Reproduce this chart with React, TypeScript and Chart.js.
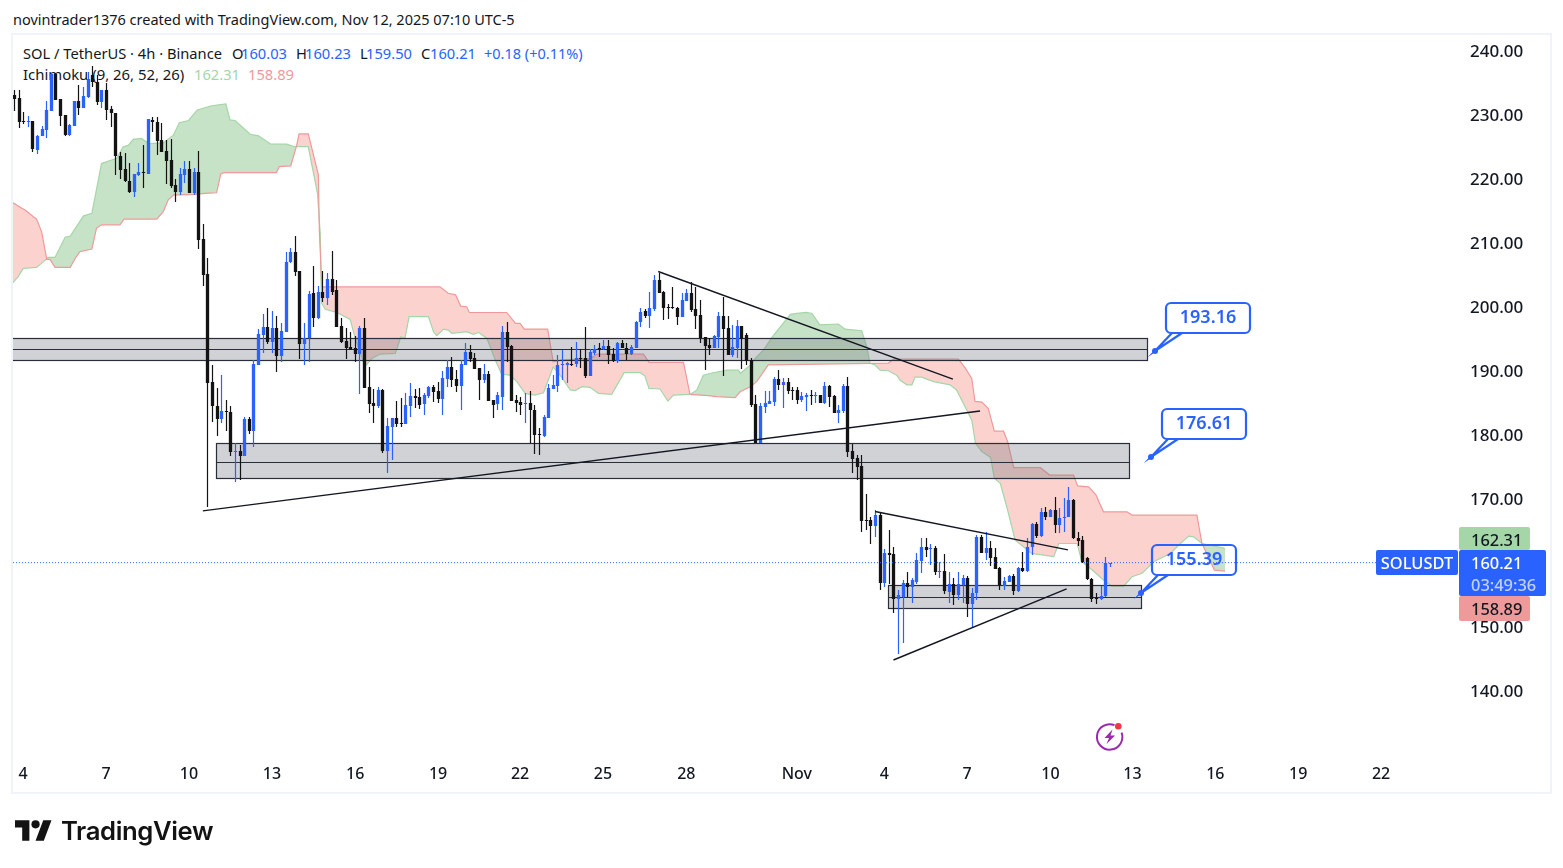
import { useEffect, useRef } from 'react';
import Chart from 'chart.js/auto';

const BLUE = '#2962ff';
const CANDLE_BLACK = '#131313';
const FONT = '"Noto Sans", sans-serif';

// candles, 4h bars
const opens = [
  233.3,232.8,229.2,229.0,229.2,224.7,226.8,227.8,230.8,236.6,
  232.7,230.1,227.0,228.5,232.3,231.3,233.0,236.4,235.3,232.2,
  234.1,231.1,230.4,223.8,221.7,219.9,218.2,220.8,221.2,221.0,
  229.4,229.0,226.2,224.6,223.1,219.2,218.2,220.8,221.7,218.0,
  221.2,210.8,205.3,188.4,184.75,182.7,183.9,183.8,177.55,177.65,
  176.9,182.65,180.8,191.15,195.8,197.0,194.7,196.9,192.5,196.3,
  207.15,208.7,205.8,194.4,195.3,202.3,198.5,202.5,201.6,204.6,
  202.8,197.2,194.8,193.9,193.75,192.85,196.9,187.6,185.15,184.7,
  187.2,177.7,181.45,182.75,182.05,181.9,184.75,186.3,186.1,185.05,
  186.3,187.6,187.0,185.85,188.9,190.8,188.85,187.85,191.15,193.1,
  192.15,190.6,188.75,189.7,185.55,185.05,186.15,196.25,194.1,185.6,
  185.3,185.05,185.1,184.05,180.3,180.0,182.85,187.35,187.85,191.1,
  191.1,191.25,191.2,192.15,192.2,189.4,193.0,193.7,193.55,194.05,
  192.75,191.7,194.5,193.8,192.8,193.8,197.8,199.5,198.75,199.85,
  204.4,202.5,200.15,200.15,200.05,198.65,201.15,202.4,199.85,198.9,
  195.4,194.2,193.8,195.4,198.75,196.8,192.65,193.8,197.2,195.8,
  191.9,185.0,178.85,184.55,185.0,185.3,188.9,188.0,188.45,187.2,
  187.2,185.6,186.15,186.45,186.3,186.4,185.2,187.8,186.25,183.65,
  183.95,187.85,177.65,176.5,175.3,166.85,166.85,166.0,167.65,157.05,
  161.75,161.55,154.6,154.9,157.0,156.45,157.2,160.5,162.6,162.45,
  162.5,158.75,158.9,155.65,156.85,155.15,156.7,157.8,153.75,155.4,
  164.25,161.75,162.45,161.05,159.3,156.55,157.2,158.1,155.75,159.3,
  158.9,162.6,166.25,164.35,168.05,167.35,168.45,166.1,167.2,167.35,
  170.0,164.0,163.75,160.9,157.65,154.65,154.6,155.0,160.03,
];
const highs = [
  234.1,234.1,230.7,230.0,229.2,227.0,228.4,232.3,236.7,236.7,
  232.7,230.2,228.8,232.3,234.8,234.5,236.8,237.8,236.4,234.1,
  235.2,231.6,230.5,224.3,224.2,222.7,221.0,222.6,225.5,229.6,
  229.8,229.8,228.9,226.2,226.4,220.2,221.8,223.0,223.0,221.8,
  224.5,213.1,207.8,191.1,187.45,189.5,185.6,184.7,178.9,178.6,
  183.0,182.9,191.8,196.7,199.1,200.0,199.5,198.75,197.6,208.8,
  209.3,211.25,205.8,197.7,202.65,206.6,203.45,205.8,205.4,208.9,
  204.4,198.4,196.8,196.3,195.6,197.2,198.4,190.85,187.3,187.6,
  187.3,182.8,182.85,185.4,186.0,186.65,188.25,187.3,187.45,186.65,
  187.8,188.0,188.5,190.2,191.8,192.3,190.3,191.8,194.5,194.2,
  192.9,190.6,191.25,190.2,185.6,186.8,197.2,197.8,194.2,186.4,
  186.15,186.65,187.0,184.85,181.2,183.3,188.1,189.5,192.65,193.45,
  191.6,193.85,194.75,193.55,197.0,193.55,194.2,194.6,195.0,195.0,
  193.7,194.75,195.0,194.5,194.2,198.0,200.0,199.8,202.45,205.15,
  205.4,202.7,200.6,203.25,200.2,202.3,202.9,204.1,203.25,201.25,
  195.4,195.25,195.8,199.3,201.75,198.75,197.35,198.2,197.25,196.05,
  192.15,186.4,185.1,187.0,187.0,189.15,190.3,189.0,189.0,187.6,
  187.6,186.8,186.65,187.2,186.8,186.4,188.5,188.0,186.4,184.85,
  188.1,189.25,178.75,177.0,177.0,171.0,167.4,168.4,168.15,162.3,
  165.3,162.7,155.9,157.5,158.8,157.75,161.65,164.0,164.1,163.1,
  162.8,160.35,161.55,158.8,157.75,158.8,158.25,158.15,156.2,164.5,
  164.5,164.95,163.65,162.45,159.55,158.0,158.25,158.4,159.55,161.9,
  164.0,166.35,166.6,168.7,168.95,168.55,170.5,168.7,170.25,172.0,
  170.1,164.95,164.4,161.15,157.75,155.4,156.55,161.15,160.23,
];
const lows = [
  230.8,228.1,228.8,228.3,224.4,224.1,226.8,226.6,230.8,232.5,
  228.4,226.9,226.8,228.4,230.2,231.2,232.8,234.6,231.7,231.2,
  229.4,228.3,220.8,220.1,219.7,218.0,217.4,220.7,218.8,220.9,
  227.5,223.9,224.3,219.4,218.7,216.6,217.7,219.6,217.9,217.6,
  209.2,203.4,168.9,182.2,180.05,182.0,180.8,176.8,172.8,173.1,
  176.8,180.3,178.3,191.1,193.0,194.4,193.0,190.05,191.5,196.3,
  207.0,205.05,192.0,191.1,191.6,197.1,198.3,201.0,200.5,202.0,
  197.1,194.5,192.1,193.4,191.5,186.5,187.45,183.65,182.1,184.4,
  177.4,174.15,176.25,181.45,181.45,181.9,183.0,184.3,184.15,183.3,
  186.0,185.3,185.2,183.3,187.7,187.7,186.9,184.0,191.1,191.6,
  190.5,185.6,188.35,185.4,182.85,184.05,184.05,191.6,185.4,183.8,
  183.3,182.1,178.85,177.2,177.0,179.9,182.75,187.3,186.8,188.75,
  188.35,190.95,190.75,190.55,189.0,189.3,192.65,192.4,193.45,191.25,
  191.6,191.45,193.7,191.9,192.65,193.7,197.1,198.4,196.8,199.5,
  202.4,198.1,198.25,199.8,197.35,198.55,201.15,199.3,196.65,194.6,
  190.3,192.65,193.7,193.8,189.4,192.65,192.3,192.25,190.45,191.1,
  184.6,178.85,178.85,183.65,185.0,184.75,187.2,184.4,186.55,185.6,
  185.0,185.35,183.95,184.85,185.1,185.1,185.0,184.6,183.55,182.0,
  183.65,176.75,174.25,173.2,165.05,165.3,163.2,164.25,155.9,156.45,
  156.95,152.4,146.0,147.6,154.9,153.85,156.8,158.55,161.15,159.85,
  158.25,157.75,155.3,153.95,153.6,154.35,153.85,151.75,149.95,154.45,
  161.65,160.7,159.7,159.15,155.9,155.9,157.2,155.15,155.65,158.8,
  158.8,161.4,164.0,164.25,166.85,167.3,164.8,164.8,165.05,167.3,
  163.85,162.85,160.1,157.5,154.0,153.7,154.35,154.9,159.5,
];
const closes = [
  232.7,229.1,229.0,229.2,224.9,226.9,228.0,230.9,236.6,232.5,
  230.05,227.0,228.6,232.3,231.3,233.1,235.8,235.3,232.2,234.1,
  231.0,230.4,223.8,221.6,219.8,218.1,221.0,221.2,221.1,229.5,
  229.0,226.1,224.4,223.0,219.0,218.2,220.9,221.7,218.0,221.3,
  210.6,205.2,188.3,184.7,182.7,183.9,183.8,177.55,177.65,176.9,
  182.65,180.8,191.25,195.95,197.0,194.7,196.9,192.5,196.4,207.2,
  208.7,205.7,194.4,195.3,202.2,198.5,202.5,201.6,204.6,202.55,
  197.1,194.75,193.75,193.5,192.85,196.9,187.55,185.05,184.75,187.2,
  177.7,181.6,182.75,181.9,181.9,184.85,186.25,186.0,184.85,186.4,
  187.65,186.9,185.85,189.05,190.8,188.75,187.85,191.25,193.2,192.0,
  190.5,188.75,189.7,185.5,184.85,186.4,196.25,193.95,185.5,185.1,
  184.9,185.15,184.0,180.2,180.15,182.9,187.5,187.9,191.1,191.25,
  191.4,191.15,192.15,192.05,189.4,193.05,193.6,193.55,194.05,192.65,
  191.75,194.5,193.8,192.8,193.85,197.8,199.45,198.75,199.95,204.4,
  202.4,200.05,200.05,200.0,198.65,201.25,202.4,199.7,198.8,195.25,
  194.05,193.8,195.6,198.8,196.75,192.65,193.85,197.2,195.1,191.7,
  184.85,178.85,184.75,185.1,185.45,188.9,188.0,188.45,187.1,187.1,
  185.6,186.25,186.4,186.3,186.4,185.1,187.8,186.15,183.65,184.05,
  187.85,177.55,176.4,175.2,166.75,166.65,166.0,167.65,157.05,161.75,
  161.4,154.6,155.15,157.0,156.45,157.5,160.6,162.6,162.2,162.55,
  158.8,158.9,155.75,156.85,155.15,156.85,157.8,153.75,155.4,164.25,
  161.75,162.55,161.0,159.2,156.7,157.35,158.1,155.75,159.4,158.9,
  162.7,166.25,164.35,168.05,167.4,168.45,166.1,167.2,167.4,170.0,
  164.0,163.6,160.35,157.6,154.5,154.6,155.05,160.1,160.21,
];

// ichimoku cloud, bar number and price where the outline bends
const spanABars = [
  -0.33,0.8,1.9,4.8,6.3,7.3,8.8,11,12.1,15,16.8,18.9,22.2,23.6,24.7,25.8,27.6,29.1,32.3,34.5,
  35.8,37.8,39.7,42.8,45.9,46.8,47.9,51.2,53,55.7,59.1,60.9,63.8,65.8,66.4,66.6,66.7,67.5,70,72.9,
  74,76.1,77.6,79.4,82.7,83.9,84.8,85.7,89.9,91,91.7,93.2,94.2,95,98.2,99.6,100.8,102.6,104.4,105.8,
  107.6,109.1,110.9,113,114.9,117,118.5,120.7,121.8,123.2,125,126.8,129.7,132.4,135.9,136.9,137.8,140.2,141.9,143.1,
  146.7,148.2,149.6,151.2,154.7,157.2,157.7,159.8,160.9,162.7,164.5,168.5,169.9,172,173.2,174.9,178.9,180.4,184,185.1,
  185.8,186.9,188,189.8,191.6,192.3,193.8,194.9,195.6,197,199.6,203.2,204.6,206.8,207.9,208.7,210.1,212,212.8,214.1,
  215.5,217.3,220.9,225.7,226.8,230.8,231.8,233.7,236.5,238.3,240.9,242.7,244.9,247.4,251,253.2,255,256.1,257.9,262.6,262.9,
];
const spanAValues = [
  203.95,204.9,206.2,206.35,207.25,207.9,207.9,211.05,211.25,214.4,214.8,222.6,223.4,225.2,225.4,226.35,226.5,225.7,225.8,227.0,
  228.95,229.3,230.95,231.6,231.9,229.4,229.3,227.15,226.9,225.6,225.6,225.2,225.2,217.9,211.65,203.6,200.75,199.8,199.3,198.2,
  195.3,190.85,192.1,192.8,192.9,195.5,195.25,198.65,198.65,196.3,195.7,196.7,196.55,196.05,196.3,195.9,196.2,195.25,191.9,189.65,
  189.5,188.5,186.65,186.4,186.75,190.8,189.5,187.2,187.1,187.7,187.6,186.65,186.5,189.9,189.9,189.4,187.45,187.35,185.45,186.4,
  186.5,187.2,189.5,189.8,190.3,190.3,189.8,191.1,192.15,193.45,195.4,199.0,199.15,199.3,199.15,197.35,197.5,196.7,196.45,193.95,
  191.35,191.1,190.3,190.2,189.5,188.75,188,188,189.2,189.2,188.5,188,187.2,184.06,182.5,178.85,177.55,176.65,173.4,172.6,
  168.95,163.75,161.65,161.15,163.2,163.2,160.35,159.3,157.5,156.55,156.55,158,158.55,160.35,161.65,163.2,164.35,164.25,163.2,162.5,162.31,
];
const spanBBars = [
  -0.33,1.6,2.3,4.1,4.8,5.9,7.0,7.7,8.8,12.1,13.4,14.2,16.8,17.8,18.9,22.9,23.8,30.9,32.3,33.4,
  34.5,38.8,41.4,43.9,44.8,45.5,56.9,57.5,60.0,61.3,61.8,63.8,66.0,66.2,66.75,92.4,94.2,95.8,96.9,98.2,
  98.8,106.9,108.8,109.8,110.7,115.8,117.0,118.9,125.0,126.5,136.6,137.8,145.3,146.7,150.7,152.5,156.5,157.6,159.8,161.2,
  163.7,189.8,190.9,205.0,206.5,207.9,208.6,210.1,211.5,212.8,214.8,215.7,217,222.8,224.8,230,230.9,233.3,234.9,236.5,
  241.6,242.7,256.8,257.9,260.6,262.9,
];
const spanBValues = [
  216.46,215.57,215.3,214.27,213.9,211.9,207.6,207.6,206.35,206.35,208.0,208.8,209.2,212.45,213.0,213.0,213.9,213.9,215.05,216.9,
  217.65,217.75,217.9,218.0,220.95,221.15,221.15,222.1,222.2,225.45,227.2,227.2,220.8,212.2,203.3,203.3,202.3,202.05,200.3,200.2,
  199.3,199.3,197.6,197.6,196.7,196.7,191.6,191.9,192.05,192.8,192.8,191.5,191.5,186.5,186.3,186.15,186.0,186.9,187.7,188.5,
  191.1,191.4,192.0,192.0,190.6,189.0,185.4,185.3,184.3,180.75,180.75,179.1,175.05,175.05,173.9,173.9,172.2,172.05,170.75,168.15,
  168.15,167.65,167.65,163.2,159.05,158.89,
];

// axes
const priceTicks = [140, 150, 160, 170, 180, 190, 200, 210, 220, 230, 240];
const dayTickBars = [1.85, 19.9, 37.9, 55.9, 74, 92, 109.8, 127.8, 145.9, 169.9, 188.9, 206.9, 225, 242.8, 260.8, 278.8, 296.8];
const dayLabels = ['4', '7', '10', '13', '16', '19', '22', '25', '28', 'Nov', '4', '7', '10', '13', '16', '19', '22'];
const lastPrice = 160.21;

// drawings: [first bar, last bar, top, middle, bottom]
const zones = [
  [-4, 246.0, 195.3, 193.6, 191.9],
  [43.75, 241.95, 178.9, 176.0, 173.4],
  [189.7, 244.7, 156.7, 154.9, 153.2],
];
// [bar, price, bar, price]
const trendLines = [
  [40.9, 168.3, 209.7, 183.9],
  [139.8, 205.7, 203.8, 188.9],
  [186.9, 168.2, 228.8, 162.2],
  [190.9, 145.0, 228.5, 156.1],
];
const calloutBars = [247.7, 246.9, 244.7];
const calloutPrices = [193.3, 176.7, 155.5];
const calloutLabels = ['193.16', '176.61', '155.39'];

const toPoints = (xs: number[], ys: number[]) => xs.map((x, i) => ({ x, y: ys[i] }));
const candleColor = (i: number) => (closes[i] >= opens[i] ? BLUE : CANDLE_BLACK);

// snap candles to whole pixels, TradingView draws them crisp
const snapCandles = {
  id: 'snapCandles',
  afterDatasetsUpdate(chart: any) {
    chart.data.datasets.forEach((ds: any, idx: number) => {
      if (ds.type !== 'bar') return;
      chart.getDatasetMeta(idx).data.forEach((el: any) => {
        el.x = Math.round(el.x - 0.5) + 0.5;
        el.y = Math.round(el.y);
        el.base = Math.round(el.base);
        if (el.y === el.base) el.base += 1;
      });
    });
  },
};

// zones go over the cloud but under the candles, callouts on top of everything
const drawings = {
  id: 'drawings',
  beforeDatasetDraw(chart: any, args: any) {
    if (chart.data.datasets[args.index].label !== 'wicks') return;
    const { ctx, scales, chartArea } = chart;
    const { x, y } = scales;
    ctx.save();
    ctx.beginPath();
    ctx.rect(chartArea.left, chartArea.top, chartArea.width, chartArea.height);
    ctx.clip();
    zones.forEach(([from, to, top, mid, bottom]) => {
      const left = Math.round(x.getPixelForValue(from)) + 0.5;
      const right = Math.round(x.getPixelForValue(to)) + 0.5;
      const t = Math.round(y.getPixelForValue(top)) + 0.5;
      const m = Math.round(y.getPixelForValue(mid)) + 0.5;
      const b = Math.round(y.getPixelForValue(bottom)) + 0.5;
      ctx.fillStyle = 'rgba(120,123,134,0.34)';
      ctx.fillRect(left, t, right - left, b - t);
      ctx.strokeStyle = '#2a2e39';
      ctx.lineWidth = 1.2;
      ctx.strokeRect(left, t, right - left, b - t);
      ctx.beginPath();
      ctx.moveTo(left, m);
      ctx.lineTo(right, m);
      ctx.stroke();
    });
    ctx.restore();
  },
  afterDatasetsDraw(chart: any) {
    const { ctx, scales } = chart;
    const { x, y } = scales;
    ctx.save();
    calloutLabels.forEach((label, i) => {
      const px = Math.round(x.getPixelForValue(calloutBars[i]));
      const py = Math.round(y.getPixelForValue(calloutPrices[i]));
      const left = px + 11;
      const top = py - 48;
      const w = 84;
      const h = 30;
      ctx.strokeStyle = BLUE;
      ctx.lineWidth = 2.2;
      ctx.beginPath();
      ctx.roundRect(left, top, w, h, 5);
      ctx.stroke();
      ctx.beginPath();
      ctx.moveTo(left + 6, top + h);
      ctx.lineTo(px, py);
      ctx.lineTo(left + 16, top + h);
      ctx.stroke();
      ctx.fillStyle = BLUE;
      ctx.beginPath();
      ctx.arc(px, py, 3, 0, Math.PI * 2);
      ctx.fill();
      ctx.font = `600 18px ${FONT}`;
      ctx.textAlign = 'center';
      ctx.textBaseline = 'middle';
      ctx.fillText(label, left + w / 2, top + h / 2);
    });
    ctx.restore();
  },
};

function Label({ x, y, color = '#131722', size = 14.7, children }: any) {
  return (
    <span
      style={{
        position: 'absolute', left: x, top: y, color, fontFamily: FONT, fontSize: size,
        lineHeight: '20px', whiteSpace: 'nowrap',
      }}
    >
      {children}
    </span>
  );
}

function PriceTag({ x, y, w, h, bg, color = '#131722', indent, children }: any) {
  return (
    <div
      style={{
        position: 'absolute', left: x, top: y, width: w, height: h, background: bg, color, borderRadius: 2,
        fontFamily: FONT, fontSize: 16.4, fontWeight: 500, lineHeight: '24px',
      }}
    >
      <div style={{ paddingTop: 1, paddingLeft: indent ?? 0, textAlign: indent ? 'left' : 'center' }}>{children}</div>
    </div>
  );
}

export default function App() {
  const canvasRef = useRef<HTMLCanvasElement>(null);

  useEffect(() => {
    if (!canvasRef.current) return;
    const bars = opens.map((_, i) => i);
    const lineBase = { type: 'line', pointRadius: 0, tension: 0 };
    const chart = new Chart(canvasRef.current, {
      type: 'bar',
      data: {
        datasets: [
          {
            ...lineBase,
            label: 'Leading Span A',
            data: toPoints(spanABars, spanAValues),
            borderColor: '#a5d6a7',
            borderWidth: 1.2,
            fill: { target: 1, above: 'rgba(67,160,71,0.3)', below: 'rgba(244,67,54,0.24)' },
            order: 10,
          },
          {
            ...lineBase,
            label: 'Leading Span B',
            data: toPoints(spanBBars, spanBValues),
            borderColor: '#ef9a9a',
            borderWidth: 1.2,
            order: 9,
          },
          {
            type: 'bar',
            label: 'wicks',
            data: bars.map((i) => ({ x: i, y: [lows[i], highs[i]] })),
            backgroundColor: bars.map(candleColor),
            maxBarThickness: 1.2,
            grouped: false,
            borderWidth: 0,
            inflateAmount: 0,
            order: 6,
          },
          {
            type: 'bar',
            label: 'bodies',
            data: bars.map((i) => ({ x: i, y: [opens[i], closes[i]] })),
            backgroundColor: bars.map(candleColor),
            maxBarThickness: 3.6,
            grouped: false,
            borderWidth: 0,
            inflateAmount: 0,
            order: 5,
          },
          ...trendLines.map(([x1, y1, x2, y2], i) => ({
            ...lineBase,
            label: `trend ${i + 1}`,
            data: [{ x: x1, y: y1 }, { x: x2, y: y2 }],
            borderColor: '#131722',
            borderWidth: 1.4,
            order: 2,
          })),
          {
            ...lineBase,
            label: 'last price',
            data: [{ x: -0.33, y: lastPrice }, { x: 312.2, y: lastPrice }],
            borderColor: BLUE,
            borderWidth: 1,
            borderDash: [1, 2],
            order: 1,
          },
        ] as any,
      },
      options: {
        animation: false,
        responsive: false,
        layout: { padding: { left: 13, top: 35, right: 0, bottom: 0 } },
        plugins: { legend: { display: false }, tooltip: { enabled: false } },
        scales: {
          x: {
            type: 'linear',
            min: -0.326,
            max: 312.2,
            offset: false,
            grid: { display: false },
            border: { display: false },
            afterFit: (s: any) => { s.height = 113; },
            afterBuildTicks: (s: any) => { s.ticks = dayTickBars.map((value) => ({ value })); },
            ticks: {
              autoSkip: false,
              maxRotation: 0,
              padding: 2,
              color: '#131722',
              font: { family: FONT, size: 16, weight: '500' },
              callback: (_v: any, i: number) => dayLabels[i],
            },
          },
          y: {
            position: 'right',
            min: 130.156,
            max: 242.656,
            grid: { display: false },
            border: { display: false },
            afterFit: (s: any) => { s.width = 111; },
            afterBuildTicks: (s: any) => { s.ticks = priceTicks.map((value) => ({ value })); },
            ticks: {
              padding: 10,
              color: '#131722',
              font: { family: FONT, size: 17, weight: '500' },
              callback: (v: any) => Number(v).toFixed(2),
            },
          },
        },
      } as any,
      plugins: [snapCandles, drawings],
    });
    return () => chart.destroy();
  }, []);

  return (
    <div style={{ position: 'absolute', left: 0, top: 0, width: 1563, height: 868, overflow: 'hidden', background: '#fff' }}>
      <Label x={13} y={9} size={14.5}>novintrader1376 created with TradingView.com, Nov 12, 2025 07:10 UTC-5</Label>
      <div style={{ position: 'absolute', left: 11, top: 33, width: 1537, height: 757, border: '2px solid #f0f3fa' }} />

      <Label x={23} y={43}>SOL / TetherUS · 4h · Binance</Label>
      <Label x={232} y={43}>O</Label>
      <Label x={241} y={43} color={BLUE}>160.03</Label>
      <Label x={296} y={43}>H</Label>
      <Label x={305} y={43} color={BLUE}>160.23</Label>
      <Label x={360} y={43}>L</Label>
      <Label x={366} y={43} color={BLUE}>159.50</Label>
      <Label x={421} y={43}>C</Label>
      <Label x={430} y={43} color={BLUE}>160.21</Label>
      <Label x={484} y={43} color={BLUE} size={14.5}>+0.18 (+0.11%)</Label>
      <Label x={23} y={64} size={14.9}>Ichimoku (9, 26, 52, 26)</Label>
      <Label x={194} y={64} color="#a5d6a7">162.31</Label>
      <Label x={248} y={64} color="#ef9a9a">158.89</Label>

      <canvas ref={canvasRef} width={1563} height={868} style={{ position: 'absolute', left: 0, top: 0, display: 'block' }} />

      <PriceTag x={1459} y={527} w={71} h={23} bg="#a5d6a7" indent={12}>162.31</PriceTag>
      <PriceTag x={1459} y={596} w={71} h={25} bg="#ef9a9a" indent={12}>158.89</PriceTag>
      <PriceTag x={1376} y={550} w={82} h={25} bg={BLUE} color="#fff">SOLUSDT</PriceTag>
      <PriceTag x={1459} y={550} w={87} h={46} bg={BLUE} color="#fff" indent={12}>
        160.21
        <div style={{ color: 'rgba(255,255,255,0.7)', marginTop: -2 }}>03:49:36</div>
      </PriceTag>

      {/* lightning mark */}
      <svg style={{ position: 'absolute', left: 1092, top: 719 }} width={36} height={36} viewBox="0 0 36 36">
        <path d="M 22.5 6.2 A 12.7 12.7 0 1 0 29.6 13.6" fill="none" stroke="#9c27b0" strokeWidth={2} />
        <path d="M20.5 10.5 L12.5 19 H17 L14.5 25 L23 16.5 H18.5 Z" fill="#9c27b0" />
        <circle cx={26.3} cy={7.3} r={3.3} fill="#f23645" />
      </svg>

      {/* logo */}
      <svg style={{ position: 'absolute', left: 15, top: 819 }} width={37} height={24} viewBox="0 0 36 23">
        <path d="M14 21H7V8H0V1h14v20zM28 21h-8l7.5-20h8L28 21z" fill="#131313" />
        <circle cx={20} cy={5} r={4} fill="#131313" />
      </svg>
      <span
        style={{
          position: 'absolute', left: 61, top: 813, fontFamily: '"Inter", sans-serif', fontWeight: 600,
          fontSize: 25.7, lineHeight: '36px', letterSpacing: -0.4, color: '#131313',
        }}
      >
        TradingView
      </span>
    </div>
  );
}
